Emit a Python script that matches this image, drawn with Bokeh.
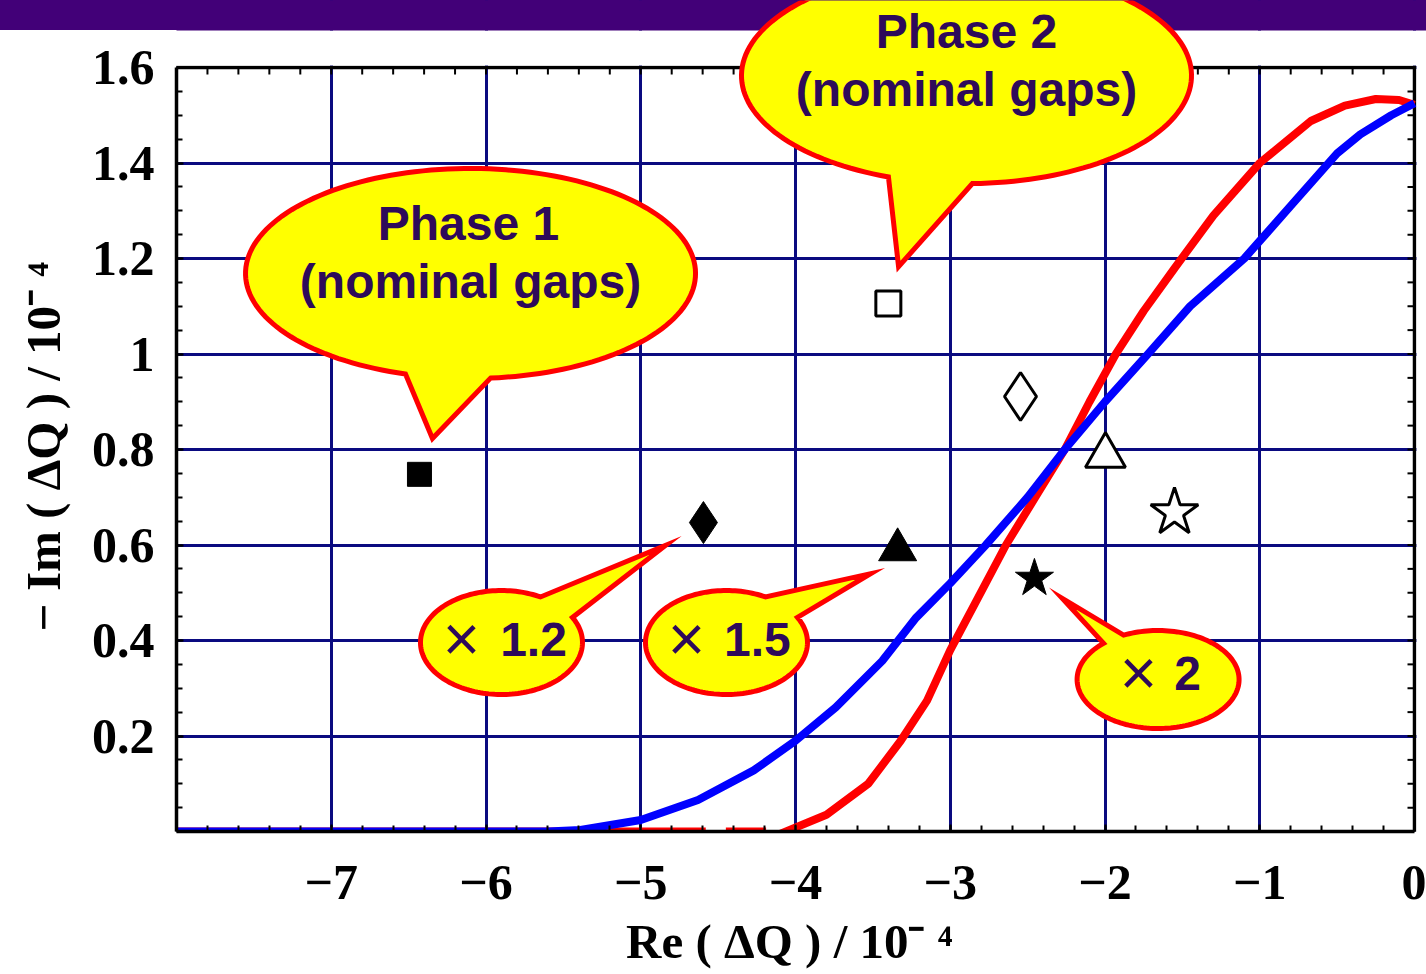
import numpy as np
from bokeh.plotting import figure
from bokeh.models import (Range1d, FixedTicker, Label, PolyAnnotation, BoxAnnotation,
                          ColumnDataSource)
from bokeh.embed import file_html
from bokeh.resources import INLINE

# ---------------- data ----------------
x_tick_values = [-7, -6, -5, -4, -3, -2, -1, 0]
x_tick_labels = ["\u22127", "\u22126", "\u22125", "\u22124", "\u22123", "\u22122", "\u22121", "0"]
y_tick_values = [0.2, 0.4, 0.6, 0.8, 1.0, 1.2, 1.4, 1.6]
y_tick_labels = ["0.2", "0.4", "0.6", "0.8", "1", "1.2", "1.4", "1.6"]
x_title = "Re ( \u0394Q ) / 10\u207b \u2074"
y_title = "\u2212 Im ( \u0394Q ) / 10\u207b \u2074"

# stability diagram (blue)
blue_re = [-8.0, -5.6, -5.39, -5.0, -4.63, -4.27, -4.0, -3.74, -3.44, -3.22, -3.0, -2.77,
           -2.5, -2.26, -2.0, -1.75, -1.45, -1.1, -0.8, -0.5, -0.35, -0.15, 0.0]
blue_im = [0.0, 0.0, 0.003, 0.024, 0.066, 0.128, 0.19, 0.26, 0.357, 0.448, 0.52, 0.60,
           0.70, 0.80, 0.90, 0.99, 1.10, 1.20, 1.31, 1.42, 1.46, 1.50, 1.525]

# stability diagram (red), with gaps near the axis
nan = float("nan")
red_re = [-8.0, -4.58, nan, -4.45, -4.19, nan,
          -4.10, -3.80, -3.53, -3.32, -3.15, -3.0, -2.82, -2.64, -2.45, -2.26, -2.1, -1.93,
          -1.75, -1.55, -1.3, -1.0, -0.67, -0.45, -0.25, -0.1, 0.0]
red_im = [0.0, 0.0, nan, 0.0, 0.0, nan,
          -0.005, 0.035, 0.10, 0.19, 0.274, 0.38, 0.49, 0.60, 0.70, 0.80, 0.90, 1.0,
          1.09, 1.18, 1.29, 1.40, 1.488, 1.52, 1.534, 1.532, 1.522]

# tune shifts: Phase 1 (filled) and Phase 2 (open) for nominal, x1.2, x1.5, x2 gaps
gap_cases = ["nominal", "x1.2", "x1.5", "x2"]
phase1_re = [-6.43, -4.595, -3.34, -2.456]
phase1_im = [0.748, 0.647, 0.59, 0.53]
phase2_re = [-3.40, -2.546, -1.997, -1.551]
phase2_im = [1.106, 0.911, 0.787, 0.668]

# ---------------- styles ----------------
case_markers = ["square", "diamond", "triangle", "star"]
filled_sizes = [24, 42, 38, 40]
open_sizes = [25, 48, 40, 50]
TEXT = "#2e0a5a"
BAND = "#420078"
SERIF = "Liberation Serif"
SANS = "Liberation Sans"
NBSP = "\u00a0"

W, H = 1426, 974
L, B = 176, 143                # frame left / bottom border (px)
PX_X = 154.75                  # px per x unit
PX_Y = 477.5                   # px per y unit
XMAX = (W - L) / PX_X - 8.0
YMAX = (H - B) / PX_Y
BAND_BOTTOM = 1.6 + 37 / PX_Y

p = figure(width=W, height=H, x_range=Range1d(-8, XMAX), y_range=Range1d(0, YMAX),
           output_backend="svg", toolbar_location=None, title=None,
           min_border=0, min_border_left=L, min_border_bottom=B,
           background_fill_color=None, border_fill_color=None)
p.outline_line_color = None
p.styles = {"background": f"linear-gradient(to bottom, {BAND} 0px, {BAND} 30px, #ffffff 30px, #ffffff 100%)"}

xt = FixedTicker(ticks=x_tick_values,
                 minor_ticks=[float(v) for v in np.round(np.arange(-8, 0.001, 0.2), 3)])
yt = FixedTicker(ticks=y_tick_values,
                 minor_ticks=[float(v) for v in np.round(np.arange(0, 1.601, 0.05), 3)])

xa, ya = p.below[0], p.left[0]
xa.bounds = (-8, 0)
ya.bounds = (0, 1.6)
for ax, tk in [(xa, xt), (ya, yt)]:
    ax.ticker = tk
    ax.axis_line_width = 3.5
    ax.axis_line_color = "black"
    ax.major_tick_in = 7
    ax.major_tick_out = 0
    ax.minor_tick_in = 6
    ax.minor_tick_out = 0
    ax.major_tick_line_width = 2
    ax.minor_tick_line_width = 2
    ax.major_tick_line_color = "black"
    ax.minor_tick_line_color = "black"
    ax.major_label_text_font = SERIF
    ax.major_label_text_font_style = "bold"
    ax.major_label_text_font_size = "50px"
    ax.major_label_text_color = "black"
    ax.axis_label_text_font = SERIF
    ax.axis_label_text_font_style = "bold"
    ax.axis_label_text_font_size = "49px"
    ax.axis_label_text_color = "black"

xa.major_label_standoff = 34
ya.major_label_standoff = 22
# padding shifts the centred titles onto the middle of the drawn box
xa.axis_label = x_title + NBSP * 2
ya.axis_label = y_title + NBSP * 5
xa.axis_label_standoff = 12
ya.axis_label_standoff = 18
xa.major_label_overrides = dict(zip(x_tick_values, x_tick_labels))
ya.major_label_overrides = dict(zip(y_tick_values, y_tick_labels))

for g in (p.xgrid, p.ygrid):
    g.grid_line_color = "#0a0a80"
    g.grid_line_width = 3
    g.grid_line_alpha = 1

# top and right frame borders with inward ticks
top_ticks = xt.minor_ticks
right_ticks = yt.minor_ticks
p.line([-8, 0], [1.6, 1.6], line_color="black", line_width=3.5, line_cap="square")
p.line([0, 0], [0, 1.6], line_color="black", line_width=3.5, line_cap="square")
p.segment(x0=top_ticks, y0=[1.6] * len(top_ticks), x1=top_ticks,
          y1=[1.6 - 7 / PX_Y] * len(top_ticks), line_color="black", line_width=2)
p.segment(x0=[0.0] * len(right_ticks), y0=right_ticks, x1=[-7 / PX_X] * len(right_ticks),
          y1=right_ticks, line_color="black", line_width=2)

# curves
p.line(red_re, red_im, line_color="#ff0000", line_width=8)
p.line(blue_re, blue_im, line_color="#0000ff", line_width=8)

src1 = ColumnDataSource(dict(x=phase1_re, y=phase1_im, m=case_markers, s=filled_sizes, case=gap_cases))
src2 = ColumnDataSource(dict(x=phase2_re, y=phase2_im, m=case_markers, s=open_sizes, case=gap_cases))
p.scatter("x", "y", marker="m", size="s", source=src1, fill_color="black", line_color="black",
          line_width=1)
p.scatter("x", "y", marker="m", size="s", source=src2, fill_color="white", line_color="black",
          line_width=3)

# white cover outside the drawing box, then the purple banner
p.add_layout(BoxAnnotation(left=-9, right=2, bottom=1.6 + 2 / PX_Y, top=BAND_BOTTOM,
                           fill_color="white", fill_alpha=1, line_color=None))
p.add_layout(BoxAnnotation(left=0 + 2 / PX_X, right=2, bottom=-1, top=BAND_BOTTOM,
                           fill_color="white", fill_alpha=1, line_color=None))
p.add_layout(BoxAnnotation(left=-9, right=2, bottom=BAND_BOTTOM, top=3,
                           fill_color=BAND, fill_alpha=1, line_color=None))


def bubble(cx, cy, rx, ry, t0, t1, tipx, tipy):
    t = np.radians(np.linspace(t0, t1, 160))
    xs = [float(v) for v in cx + rx * np.cos(t)] + [tipx]
    ys = [float(v) for v in cy + ry * np.sin(t)] + [tipy]
    p.add_layout(PolyAnnotation(xs=xs, ys=ys, fill_color="#ffff00", fill_alpha=1,
                                line_color="#ff0000", line_alpha=1, line_width=5,
                                line_join="miter"))


def txt(x, y, s, size, bold=True, font=SANS, align="center", color=TEXT):
    p.add_layout(Label(x=x, y=y, text=s, text_font=font, text_font_size=f"{size}px",
                       text_font_style="bold" if bold else "normal", text_color=color,
                       text_align=align, text_baseline="alphabetic"))


# Phase 1 callout
bubble(-6.100, 1.1686, 1.454, 0.2199, -84.9, 253.2, -6.346, 0.823)
txt(-6.113, 1.2733, "Phase 1", 48)
txt(-6.100, 1.1518, "(nominal gaps)", 48)

# Phase 2 callout
bubble(-2.895, 1.583, 1.454, 0.2262, -88.5, 249.7, -3.334, 1.183)
txt(-2.895, 1.6754, "Phase 2", 48)
txt(-2.895, 1.5539, "(nominal gaps)", 48)

# gap-scaling callouts
bubble(-5.900, 0.3958, 0.5234, 0.1089, 61.2, 388.8, -4.840, 0.599)
txt(-6.158, 0.4021, "\u00d7", 64, bold=False)
txt(-5.693, 0.4021, "1.2", 48)

bubble(-4.446, 0.3958, 0.5234, 0.1089, 61.2, 388.8, -3.515, 0.540)
txt(-4.704, 0.4021, "\u00d7", 64, bold=False)
txt(-4.246, 0.4021, "1.5", 48)

bubble(-1.657, 0.3183, 0.5234, 0.1026, 132.3, 475.2, -2.275, 0.488)
txt(-1.784, 0.3309, "\u00d7", 64, bold=False)
txt(-1.467, 0.3309, "2", 48)

open("out.html", "w").write(file_html(p, INLINE))
